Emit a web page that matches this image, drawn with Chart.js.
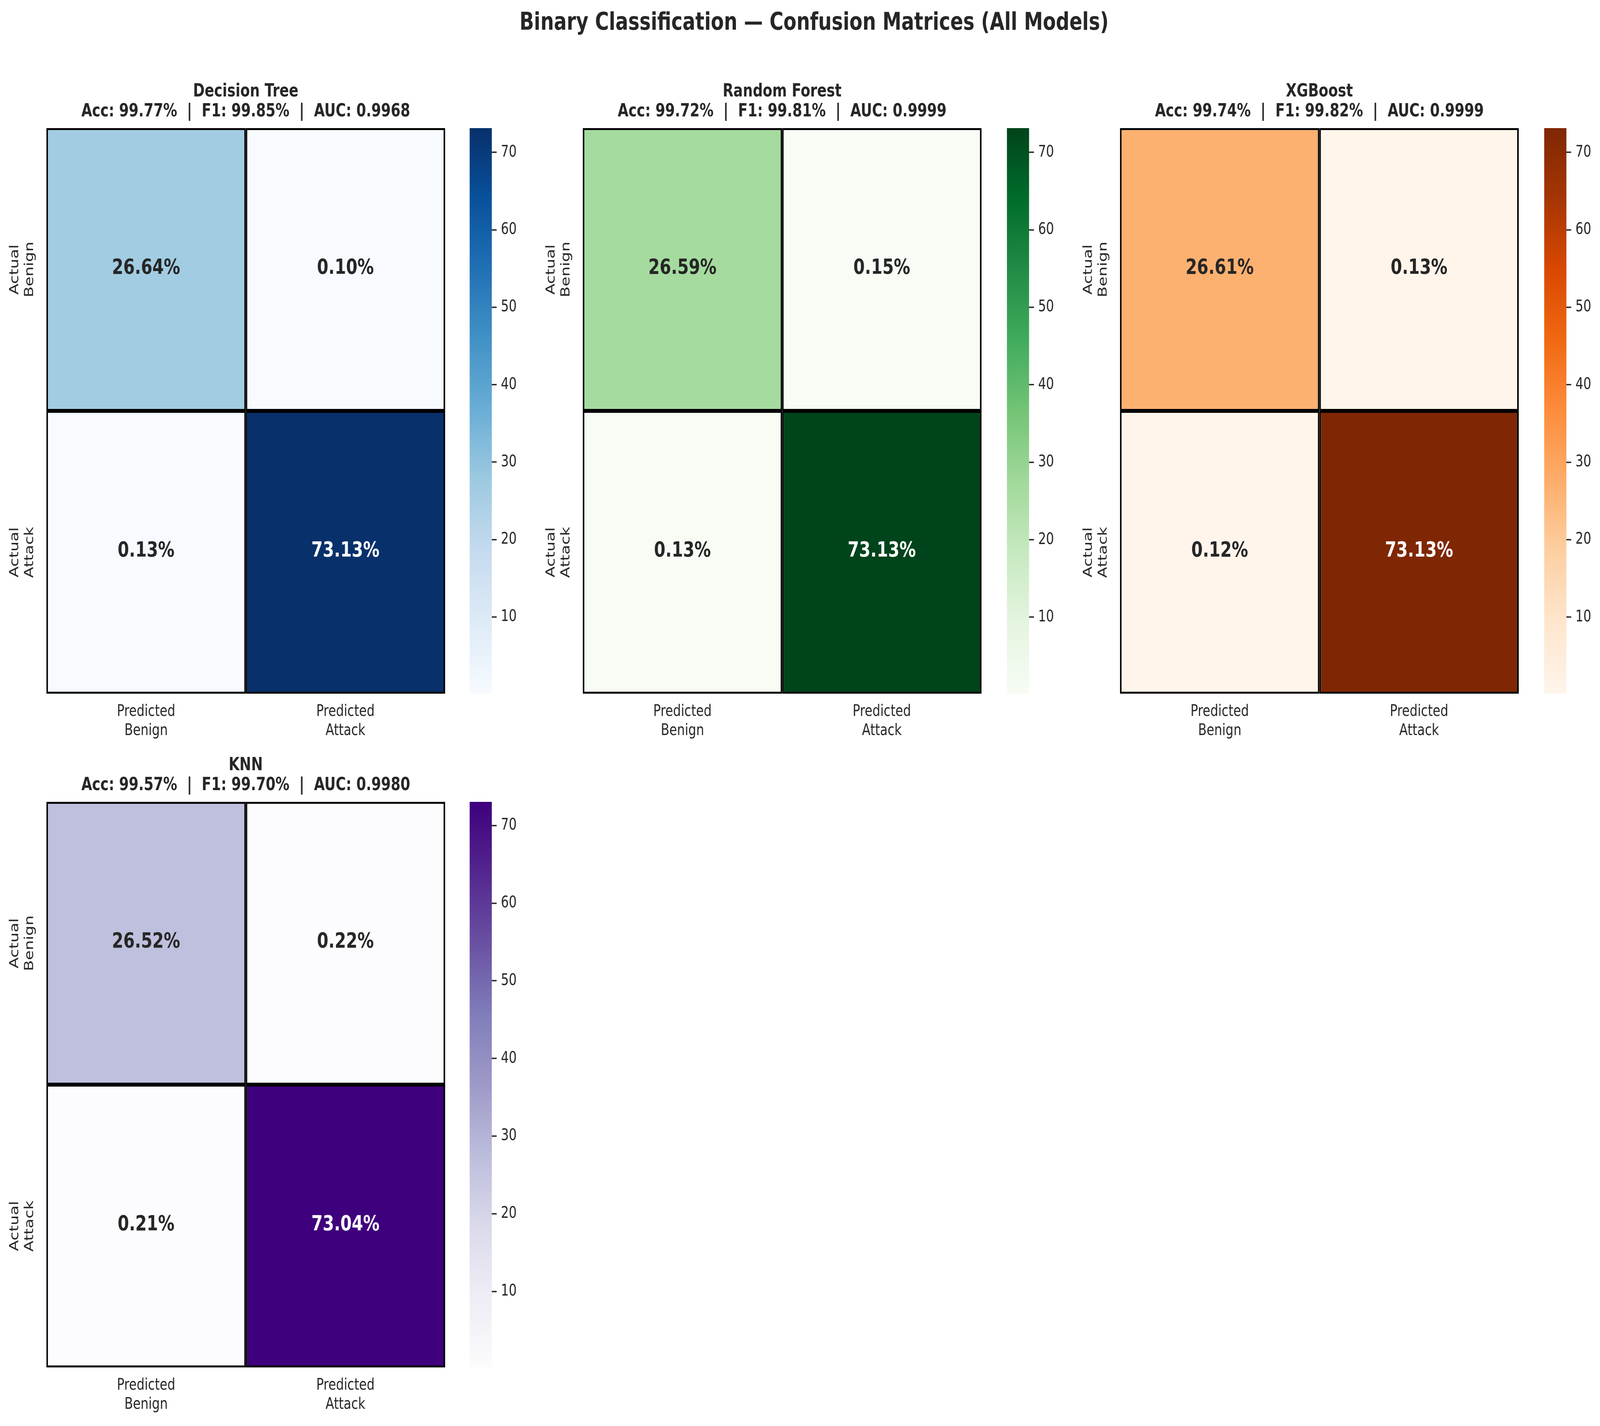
<!DOCTYPE html>
<html>
<head>
<meta charset="utf-8">
<title>Binary Classification - Confusion Matrices</title>
<script src="https://cdn.jsdelivr.net/npm/chart.js@4.4.1/dist/chart.umd.min.js"></script>
<style>
    html, body { margin: 0; padding: 0; background: #ffffff; overflow: hidden; }
    #fig { width: 5277px; height: 3651px; position: absolute; left: 0; top: 0; transform-origin: 0 0; background: #ffffff; }
    #fig canvas { position: absolute; }
    #suptitle {
        position: absolute; left: 2685px; top: 24px; transform: translateX(-50%);
        font-family: 'DejaVu Sans', sans-serif; font-weight: bold; font-size: 62.5px;
        line-height: 62.5px; color: #262626; white-space: nowrap;
    }
</style>
</head>
<body>
<div id="fig">
    <div id="suptitle">Binary Classification — Confusion Matrices (All Models)</div>
</div>
<script>
// chart values
const models = ['Decision Tree', 'Random Forest', 'XGBoost', 'KNN'];
const accuracy = [99.77, 99.72, 99.74, 99.57];
const f1Score = [99.85, 99.81, 99.82, 99.70];
const aucScore = [0.9968, 0.9999, 0.9999, 0.9980];

// confusion matrix cells, % of all samples
const benignAsBenign = [26.64, 26.59, 26.61, 26.52];
const benignAsAttack = [0.10, 0.15, 0.13, 0.22];
const attackAsBenign = [0.13, 0.13, 0.12, 0.21];
const attackAsAttack = [73.13, 73.13, 73.13, 73.04];

const predictedLabels = [['Predicted', 'Benign'], ['Predicted', 'Attack']];
const actualLabels = [['Actual', 'Benign'], ['Actual', 'Attack']];
const colorbarTicks = [10, 20, 30, 40, 50, 60, 70];
const colormapNames = ['Blues', 'Greens', 'Oranges', 'Purples'];

// matplotlib sequential colormaps (colorbrewer anchors)
const colormaps = {
    Blues: ['#f7fbff', '#deebf7', '#c6dbef', '#9ecae1', '#6baed6', '#4292c6', '#2171b5', '#08519c', '#08306b'],
    Greens: ['#f7fcf5', '#e5f5e0', '#c7e9c0', '#a1d99b', '#74c476', '#41ab5d', '#238b45', '#006d2c', '#00441b'],
    Oranges: ['#fff5eb', '#fee6ce', '#fdd0a2', '#fdae6b', '#fd8d3c', '#f16913', '#d94801', '#a63603', '#7f2704'],
    Purples: ['#fcfbfd', '#efedf5', '#dadaeb', '#bcbddc', '#9e9ac8', '#807dba', '#6a51a3', '#54278f', '#3f007d']
};

Chart.defaults.font.family = "'DejaVu Sans', sans-serif";
Chart.defaults.color = '#262626';

// the figure is laid out in 5277x3651 pixels, then stretched onto the window
// (the browser caps the window width, so both axes are fitted separately)
const FIG_W = 5277, FIG_H = 3651;
const fig = document.getElementById('fig');
const sx = window.innerWidth / FIG_W, sy = window.innerHeight / FIG_H;
fig.style.transform = 'scale(' + sx + ',' + sy + ')';
const pixelRatio = (window.devicePixelRatio || 1) * Math.max(sx, sy);

// layout (figure pixels)
const colLeft = [153, 1922, 3694];
const cbLeft = [1549, 3321, 5093];
const rowTop = [328, 2053];
const heatW = 1315, heatH = 1448, cbW = 73;
const yAxisW = 153, xAxisH = 150, titleH = 120;

function hexToRgb(hex) {
    return [1, 3, 5].map(i => parseInt(hex.substr(i, 2), 16));
}

function cmapColor(name, t) {
    const stops = colormaps[name];
    t = Math.min(1, Math.max(0, t));
    const pos = t * (stops.length - 1);
    const i = Math.min(stops.length - 2, Math.floor(pos));
    const f = pos - i;
    const a = hexToRgb(stops[i]), b = hexToRgb(stops[i + 1]);
    const c = a.map((v, k) => Math.round(v + (b[k] - v) * f));
    return 'rgb(' + c.join(',') + ')';
}

function luminance(rgbStr) {
    const c = rgbStr.match(/\d+/g).map(Number).map(v => {
        v = v / 255;
        return v <= 0.03928 ? v / 12.92 : Math.pow((v + 0.055) / 1.055, 2.4);
    });
    return 0.2126 * c[0] + 0.7152 * c[1] + 0.0722 * c[2];
}

function makeCanvas(left, top, w, h) {
    const cv = document.createElement('canvas');
    cv.style.left = left + 'px';
    cv.style.top = top + 'px';
    cv.style.width = w + 'px';
    cv.style.height = h + 'px';
    cv.width = w;
    cv.height = h;
    fig.appendChild(cv);
    return cv.getContext('2d');
}

// writes the percentage in the middle of every cell
const cellLabels = {
    id: 'cellLabels',
    afterDatasetsDraw(chart) {
        const ctx = chart.ctx;
        ctx.save();
        ctx.font = 'bold 54px "DejaVu Sans"';
        ctx.textAlign = 'center';
        ctx.textBaseline = 'middle';
        chart.data.datasets.forEach((ds, di) => {
            chart.getDatasetMeta(di).data.forEach((bar, i) => {
                ctx.fillStyle = luminance(ds.backgroundColor[i]) > 0.408 ? '#262626' : '#ffffff';
                ctx.fillText(ds.cells[i].toFixed(2) + '%', bar.x, (bar.y + bar.base) / 2 - 3);
            });
        });
        ctx.restore();
    }
};

function drawHeatmap(m) {
    const row = Math.floor(m / 3), col = m % 3;
    const L = colLeft[col], T = rowTop[row];
    const cmap = colormapNames[m];
    const topRow = [benignAsBenign[m], benignAsAttack[m]];
    const bottomRow = [attackAsBenign[m], attackAsAttack[m]];
    const all = topRow.concat(bottomRow);
    const vmin = Math.min(...all), vmax = Math.max(...all);
    const colorOf = v => cmapColor(cmap, (v - vmin) / (vmax - vmin));

    const subtitle = 'Acc: ' + accuracy[m].toFixed(2) + '%  |  F1: ' + f1Score[m].toFixed(2) +
        '%  |  AUC: ' + aucScore[m].toFixed(4);

    const cellStyle = {
        borderColor: '#000000',
        borderWidth: 5,
        borderSkipped: false,
        inflateAmount: 0,
        barPercentage: 1,
        categoryPercentage: 1
    };

    const ctx = makeCanvas(L - yAxisW, T - titleH, yAxisW + heatW + 10, titleH + heatH + xAxisH);
    new Chart(ctx, {
        type: 'bar',
        data: {
            labels: predictedLabels,
            datasets: [
                Object.assign({ label: 'Actual Attack', data: [1, 1], cells: bottomRow,
                    backgroundColor: bottomRow.map(colorOf) }, cellStyle),
                Object.assign({ label: 'Actual Benign', data: [1, 1], cells: topRow,
                    backgroundColor: topRow.map(colorOf) }, cellStyle)
            ]
        },
        options: {
            responsive: false,
            animation: false,
            devicePixelRatio: pixelRatio,
            layout: { padding: { left: 0, right: 10, top: 0, bottom: 0 } },
            plugins: {
                legend: { display: false },
                tooltip: { enabled: false },
                title: {
                    display: true,
                    fullSize: false,
                    text: [models[m], subtitle],
                    color: '#262626',
                    font: { size: 46, weight: 'bold', lineHeight: 51 / 46 },
                    padding: { top: 2, bottom: 16 }
                }
            },
            scales: {
                x: {
                    stacked: true,
                    grid: { display: false, drawTicks: false },
                    border: { display: false },
                    ticks: { font: { size: 41, lineHeight: 1.2 }, padding: 22, minRotation: 0, maxRotation: 0, autoSkip: false },
                    afterFit: s => { s.height = xAxisH; }
                },
                y: {
                    type: 'linear',
                    stacked: true,
                    min: 0,
                    max: 2,
                    grid: { display: false, drawTicks: false },
                    border: { display: false },
                    ticks: {
                        font: { size: 41, lineHeight: 1.2 },
                        padding: 8,
                        minRotation: 90,
                        maxRotation: 90,
                        crossAlign: 'center',
                        callback: v => (v > 1 ? actualLabels[0] : actualLabels[1])
                    },
                    afterBuildTicks: s => { s.ticks = [{ value: 1.5 }, { value: 0.5 }]; },
                    afterFit: s => { s.width = yAxisW; }
                }
            }
        },
        plugins: [cellLabels]
    });

    // colorbar
    const pad = 60, axisW = 150;
    const cbCtx = makeCanvas(cbLeft[col], T - pad, cbW + axisW, heatH + 2 * pad);
    new Chart(cbCtx, {
        type: 'bar',
        data: {
            labels: [''],
            datasets: [{
                data: [[vmin, vmax]],
                barPercentage: 1,
                categoryPercentage: 1,
                borderWidth: 0,
                inflateAmount: 0,
                backgroundColor: c => {
                    const area = c.chart.chartArea;
                    if (!area) return colormaps[cmap][0];
                    const g = c.chart.ctx.createLinearGradient(0, area.bottom, 0, area.top);
                    const stops = colormaps[cmap];
                    stops.forEach((s, i) => g.addColorStop(i / (stops.length - 1), s));
                    return g;
                }
            }]
        },
        options: {
            responsive: false,
            animation: false,
            devicePixelRatio: pixelRatio,
            layout: { padding: { left: 0, right: 0, top: pad, bottom: pad } },
            plugins: { legend: { display: false }, tooltip: { enabled: false } },
            scales: {
                x: { display: false },
                y: {
                    type: 'linear',
                    position: 'right',
                    min: vmin,
                    max: vmax,
                    grid: { drawOnChartArea: false, drawTicks: true, tickLength: 16, lineWidth: 3.5, color: '#262626' },
                    border: { display: false },
                    ticks: { font: { size: 41 }, padding: 14, color: '#262626' },
                    afterBuildTicks: s => { s.ticks = colorbarTicks.map(v => ({ value: v })); },
                    afterFit: s => { s.width = axisW; }
                }
            }
        }
    });
}

models.forEach((name, m) => drawHeatmap(m));
</script>
</body>
</html>
